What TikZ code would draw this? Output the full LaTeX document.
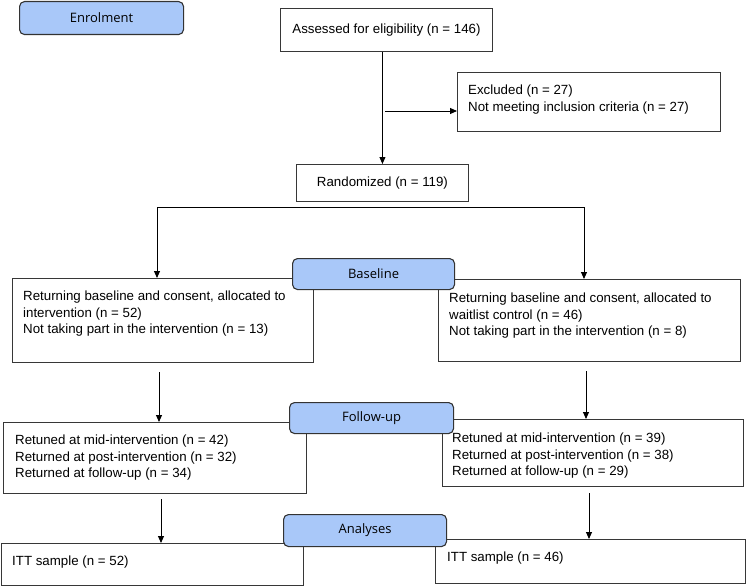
\documentclass[tikz,border=0pt]{standalone}
\usepackage{fontspec}
\setmainfont{Liberation Sans}
\newfontfamily\tagfont{Open Sans}
\usetikzlibrary{arrows.meta}

\definecolor{tagblue}{RGB}{169,200,249}
\definecolor{edgegray}{RGB}{55,55,55}

\tikzset{
  box/.style={draw=edgegray, line width=0.9pt, fill=white, inner sep=0pt, anchor=north west, font=\fontsize{13.3}{16.5}\selectfont},
  txt/.style={align=left, inner sep=0pt, anchor=north west, font=\fontsize{13.3}{16.5}\selectfont},
  tag/.style={draw=black!80, line width=1.1pt, fill=tagblue, rounded corners=5pt, inner sep=0pt, anchor=north west, font=\tagfont\fontsize{13}{15}\selectfont},
  arr/.style={line width=0.9pt, -{Triangle[length=7pt,width=6pt]}}
}

\begin{document}
\begin{tikzpicture}[x=1pt,y=-1pt]
\useasboundingbox (0,0) rectangle (750,586);

% enrolment
\node[tag, minimum width=164pt, minimum height=33pt] (enrol) at (19,1) {Enrolment};
\node[box, minimum width=212pt, minimum height=43pt] (assess) at (280,8) {Assessed for eligibility (n = 146)};
\node[box, minimum width=263pt, minimum height=59pt] (excl) at (457,72) {};
\node[txt] (excltxt) at (468,85) {Excluded (n = 27)\\Not meeting inclusion criteria (n = 27)};
\node[box, minimum width=172pt, minimum height=37pt] (rand) at (296,164) {Randomized (n = 119)};

% baseline
\node[box, minimum width=301pt, minimum height=84pt] (baseL) at (12,278) {};
\node[txt] (baseLtxt) at (23,291) {Returning baseline and consent, allocated to\\intervention (n = 52)\\Not taking part in the intervention (n = 13)};
\node[box, minimum width=302pt, minimum height=82pt] (baseR) at (438,279) {};
\node[txt] (baseRtxt) at (449,293) {Returning baseline and consent, allocated to\\waitlist control (n = 46)\\Not taking part in the intervention (n = 8)};
\node[tag, minimum width=162pt, minimum height=31pt] (basetag) at (292,258) {Baseline};

% follow-up
\node[box, minimum width=303pt, minimum height=71pt] (fupL) at (3,422) {};
\node[txt] (fupLtxt) at (15,435) {Retuned at mid-intervention (n = 42)\\Returned at post-intervention (n = 32)\\Returned at follow-up (n = 34)};
\node[box, minimum width=301pt, minimum height=67pt] (fupR) at (442,419) {};
\node[txt] (fupRtxt) at (452,433) {Retuned at mid-intervention (n = 39)\\Returned at post-intervention (n = 38)\\Returned at follow-up (n = 29)};
\node[tag, minimum width=164pt, minimum height=31pt] (fuptag) at (289,402) {Follow-up};

% analyses
\node[box, minimum width=302pt, minimum height=42pt] (ittL) at (0.5,543) {};
\node[txt] (ittLtxt) at (12,556) {ITT sample (n = 52)};
\node[box, minimum width=310pt, minimum height=44pt] (ittR) at (435,539) {};
\node[txt] (ittRtxt) at (447,552) {ITT sample (n = 46)};
\node[tag, minimum width=163pt, minimum height=32pt] (anatag) at (283,514) {Analyses};

% arrows
\draw[arr] (rand.north |- assess.south) -- (rand.north);
\coordinate (excl0) at (385,111);
\draw[arr] (excl0) -- (excl0 -| excl.west);

\coordinate (brL) at (157,207);
\coordinate (brR) at (584,207);
\draw[line width=0.9pt] (brL) -- (brR);
\draw[arr] (brL) -- (brL |- baseL.north);
\draw[arr] (brR) -- (brR |- baseR.north);

\coordinate (fupL0) at (159,372);
\coordinate (fupR0) at (586,371);
\draw[arr] (fupL0) -- (fupL0 |- fupL.north);
\draw[arr] (fupR0) -- (fupR0 |- fupR.north);

\coordinate (ittL0) at (161,499);
\coordinate (ittR0) at (589,493);
\draw[arr] (ittL0) -- (ittL0 |- ittL.north);
\draw[arr] (ittR0) -- (ittR0 |- ittR.north);
\end{tikzpicture}
\end{document}
